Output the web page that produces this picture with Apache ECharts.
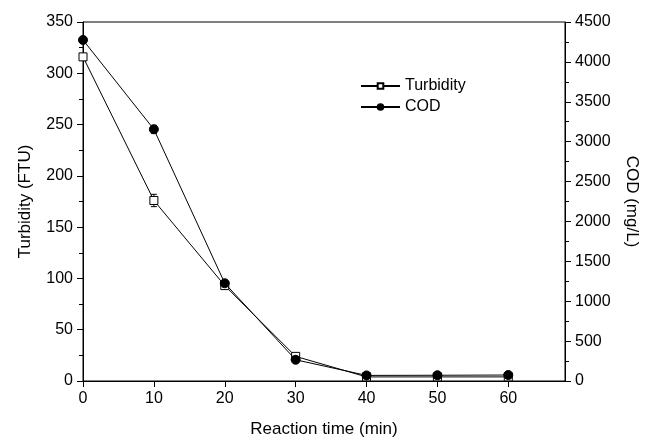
<!DOCTYPE html>
<html><head><meta charset="utf-8">
<script src="https://cdn.jsdelivr.net/npm/echarts@6/dist/echarts.min.js"></script>
<style>html,body{margin:0;padding:0;background:#fff}#c{width:650px;height:439px}</style>
</head><body><div id="c"></div>
<script>
const times = [0, 10, 20, 30, 40, 50, 60];
const turbidity = [316, 176, 93, 24, 4, 4, 4];
const turbidityErr = [3, 6, 3, 2, 1, 1, 1];
const cod = [4275, 3155, 1225, 266, 70, 72, 75];
const codErr = [30, 50, 30, 20, 15, 15, 15];
const xTicks = [0, 10, 20, 30, 40, 50, 60];

const font = 'Liberation Sans, Arial, sans-serif';
const chart = echarts.init(document.getElementById('c'));

function errSeries(vals, errs, yIdx) {
  return {
    type: 'custom', yAxisIndex: yIdx, silent: true, z: 1,
    data: times.map((t, i) => [t, vals[i] - errs[i], vals[i] + errs[i]]),
    renderItem: function (params, api) {
      const lo = api.coord([api.value(0), api.value(1)]);
      const hi = api.coord([api.value(0), api.value(2)]);
      const w = 3;
      const st = { stroke: '#000', lineWidth: 1 };
      return { type: 'group', children: [
        { type: 'line', shape: { x1: lo[0], y1: lo[1], x2: hi[0], y2: hi[1] }, style: st },
        { type: 'line', shape: { x1: lo[0]-w, y1: lo[1], x2: lo[0]+w, y2: lo[1] }, style: st },
        { type: 'line', shape: { x1: hi[0]-w, y1: hi[1], x2: hi[0]+w, y2: hi[1] }, style: st }
      ]};
    }
  };
}

const txt = { fontFamily: font, fontSize: 16, color: '#000' };
const nameTxt = { fontFamily: font, fontSize: 17, color: '#000' };

chart.setOption({
  animation: false,
  backgroundColor: '#fff',
  grid: { left: 83, right: 85, top: 22, bottom: 58, outerBoundsMode: 'none', containLabel: false,
          show: true, borderColor: '#000', borderWidth: 1 },
  legend: {
    left: 360, top: 78, padding: 0, orient: 'vertical', itemGap: 5, itemWidth: 39, itemHeight: 7,
    textStyle: txt,
    data: ['Turbidity', 'COD']
  },
  xAxis: {
    type: 'value', min: 0, max: 68, interval: 10,
    name: 'Reaction time (min)', nameLocation: 'middle', nameGap: 40,
    nameTextStyle: nameTxt,
    axisLine: { lineStyle: { color: '#000' } },
    axisTick: { inside: false, length: 6, customValues: xTicks, lineStyle: { color: '#000' } },
    axisLabel: Object.assign({ customValues: xTicks, margin: 10 }, txt),
    splitLine: { show: false }
  },
  yAxis: [{
    type: 'value', min: 0, max: 350, interval: 50, position: 'left',
    name: 'Turbidity (FTU)', nameLocation: 'middle', nameGap: 49, nameRotate: 90,
    nameTextStyle: nameTxt,
    axisLine: { show: true, lineStyle: { color: '#000' } },
    axisTick: { show: true, length: 6, lineStyle: { color: '#000' } },
    minorTick: { show: true, splitNumber: 2, length: 4, lineStyle: { color: '#000' } },
    axisLabel: Object.assign({ margin: 10 }, txt),
    splitLine: { show: false }
  }, {
    type: 'value', min: 0, max: 4500, interval: 500, position: 'right',
    name: 'COD (mg/L)', nameLocation: 'middle', nameGap: 58, nameRotate: -90,
    nameTextStyle: nameTxt,
    axisLine: { show: true, lineStyle: { color: '#000' } },
    axisTick: { show: true, length: 6, lineStyle: { color: '#000' } },
    minorTick: { show: true, splitNumber: 2, length: 4, lineStyle: { color: '#000' } },
    axisLabel: Object.assign({ margin: 10, formatter: v => String(v) }, txt),
    splitLine: { show: false }
  }],
  series: [
    errSeries(turbidity, turbidityErr, 0),
    errSeries(cod, codErr, 1),
    {
      name: 'Turbidity', type: 'line', yAxisIndex: 0, z: 3,
      data: times.map((t, i) => [t, turbidity[i]]),
      symbol: 'rect', symbolSize: 8,
      lineStyle: { color: '#000', width: 1 },
      itemStyle: { color: '#fff', borderColor: '#000', borderWidth: 1 }
    },
    {
      name: 'COD', type: 'line', yAxisIndex: 1, z: 4,
      data: times.map((t, i) => [t, cod[i]]),
      symbol: 'circle', symbolSize: 9,
      lineStyle: { color: '#000', width: 1 },
      itemStyle: { color: '#000', borderColor: '#000', borderWidth: 1 }
    }
  ]
});
</script></body></html>
